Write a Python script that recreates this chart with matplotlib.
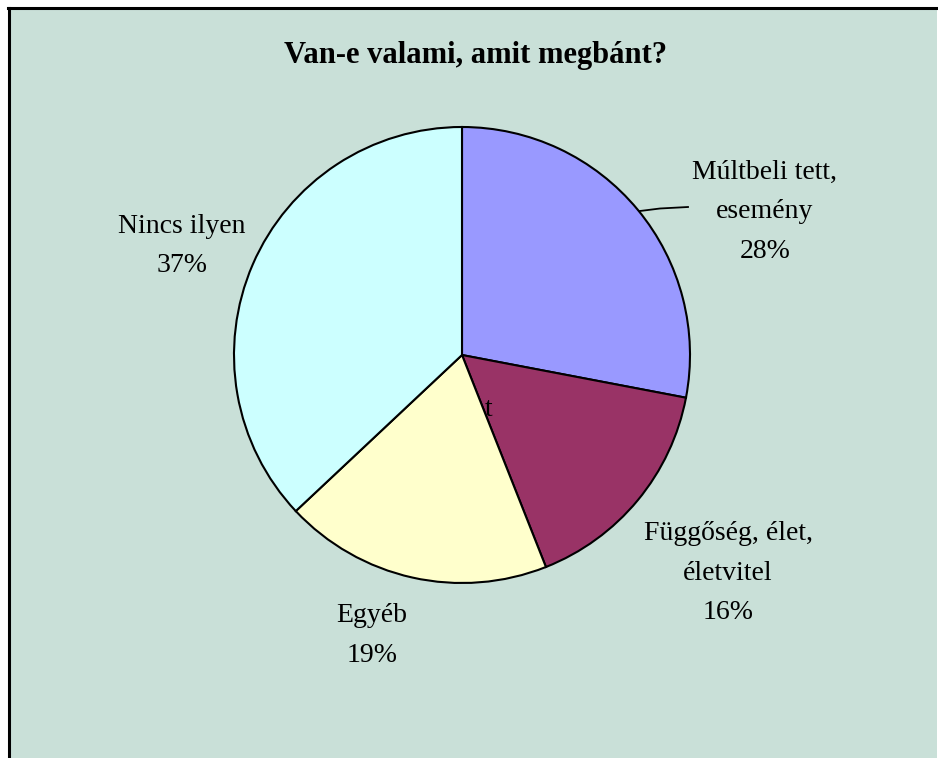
import matplotlib.pyplot as plt
from matplotlib.patches import Rectangle

# --- data -----------------------------------------------------------------
labels = ["Múltbeli tett,\nesemény", "Függőség, élet,\néletvitel", "Egyéb", "Nincs ilyen"]
shares = [28, 16, 19, 37]
colors = ["#9999FF", "#993366", "#FFFFCC", "#CCFFFF"]
title = "Van-e valami, amit megbánt?"

W, H = 938, 758
plt.rcParams["font.family"] = ["Liberation Serif", "DejaVu Serif"]

fig = plt.figure(figsize=(W / 100, H / 100), dpi=100)
ax = fig.add_axes([0, 0, 1, 1])


def py(y):
    # pixel row (top-based) -> data y
    return H - y


# pie
cx, cy, r = 462, 355, 228
ax.pie(shares, colors=colors, startangle=90, counterclock=False,
       center=(cx, py(cy)), radius=r, frame=True,
       wedgeprops=dict(edgecolor="black", linewidth=1.5, zorder=2))
ax.set_xlim(0, W)
ax.set_ylim(0, H)
ax.set_aspect("equal")
ax.axis("off")

# chart area background with black left/top border
ax.add_patch(Rectangle((9, 0), W - 10, py(8), facecolor="#C9E0D8",
                       edgecolor="none", zorder=0))
ax.plot([8.5, 8.5], [0, py(7.5)], color="black", lw=2.2, zorder=1)
ax.plot([7.5, W - 1], [py(8), py(8)], color="black", lw=2.2, zorder=1)

ax.text(476, py(63), title, ha="center", va="baseline", fontsize=22,
        fontweight="bold")

# labels with percentages, one line at a time (x centre, first baseline)
label_pos = [(765, 179), (728, 540), (372, 622), (182, 233)]
line_step = 39.5
for lab, val, (x, y) in zip(labels, shares, label_pos):
    lines = lab.split("\n") + [f"{val}%"]
    for i, line in enumerate(lines):
        ax.text(x, py(y + i * line_step), line, ha="center", va="baseline",
                fontsize=20)

# leader line for the first label
ax.plot([640, 660, 688], [py(211), py(208.5), py(207)], color="black", lw=1.3)

# stray glyph from the original
ax.text(489, py(416), "t", ha="center", va="baseline", fontsize=20)

fig.savefig("out.png", dpi=100)
